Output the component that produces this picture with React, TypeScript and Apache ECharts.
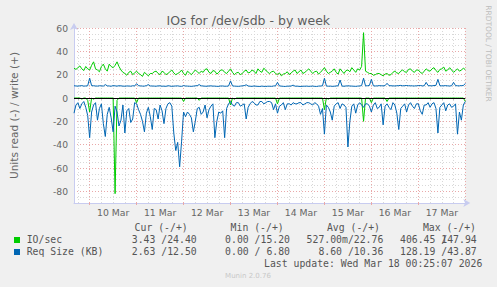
import React, { useEffect, useRef } from 'react';
import * as echarts from 'echarts';

// time axis: hours relative to 10 Mar 00:00, one sample every hour
const START_HOUR = -8;
const STEP_HOURS = 1;
const dayLabels = ['10 Mar', '11 Mar', '12 Mar', '13 Mar', '14 Mar', '15 Mar', '16 Mar', '17 Mar'];

// IO/sec, write (+)
const ioWrite = [
  25.5, 24.5, 26, 27.5, 25, 23.5, 27, 25, 24, 28, 31, 25, 24, 22.5, 27, 29, 25, 23, 29, 27,
  26, 28, 31, 27, 24, 22, 21, 19.5, 22, 23, 20, 21.5, 23, 21, 20, 18.5, 22, 20.5, 19, 21,
  21, 22.5, 23, 21, 20, 23, 22, 20, 21, 22.5, 24, 21.5, 20, 21, 22, 24, 21, 19.5, 23, 21.5,
  20, 22, 24, 22.5, 21, 23, 22, 24.5, 25, 22, 21, 23.5, 23, 20.5, 22, 24, 24, 22, 21, 23,
  25, 22, 20, 21.5, 22, 20, 21, 23, 24, 21.5, 22, 24, 23, 21, 25, 23, 22, 25.5, 24, 22,
  21, 22.5, 23, 21, 20, 21.5, 19, 20.5, 21, 22.5, 20, 21.5, 23, 24, 21, 22.5, 24, 21, 22, 23.5,
  25, 23, 21, 22.5, 23, 20.5, 22, 24, 26, 23, 21, 22, 23, 25, 22, 20.5, 25, 23, 21, 23.5,
  24, 22.5, 26, 24, 22, 25, 24, 27, 56, 23, 22, 21, 21, 19.5, 20, 21, 21, 20, 19, 20.5,
  21, 19.5, 20, 22, 23, 21.5, 21, 23, 24, 22.5, 22, 24.5, 25, 23, 22, 24, 24, 22, 21, 23,
  25, 23.5, 23, 25, 26, 23.5, 22, 24.5, 25, 26.5, 23, 24, 26, 24, 22, 23.5, 25, 23, 24, 25.5,
  24.4,
];

// IO/sec, read (-)
const ioRead = [
  0, 0, 0, 0, -1, 0, 0, -2, -12, 0, -1, 0, 0, 0, 0, 0, 0, 0, 0, 0,
  0, -82, -2, 0, 0, 0, 0, 0, 0, 0, 0, 0, -4, 0, 0, 0, 0, 0, 0, 0,
  0, 0, 0, 0, 0, 0, 0, 0, 0, 0, 0, 0, 0, 0, 0, 0, -3, 0, 0, 0,
  0, 0, 0, 0, -2, 0, 0, 0, 0, 0, 0, 0, 0, 0, 0, 0, 0, 0, 0, 0,
  -6, 0, -1, 0, 0, 0, 0, 0, 0, 0, 0, 0, 0, 0, 0, 0, 0, 0, 0, 0,
  0, 0, 0, 0, -5, 0, 0, 0, 0, 0, 0, 0, 0, 0, 0, 0, 0, 0, 0, 0,
  0, 0, 0, 0, 0, 0, 0, 0, -10, 0, -1, 0, 0, 0, 0, 0, 0, 0, 0, 0,
  0, 0, 0, 0, 0, 0, 0, 0, -20, 0, 0, 0, -4, 0, 0, 0, 0, 0, 0, 0,
  -3, 0, 0, 0, 0, 0, 0, 0, 0, 0, 0, 0, 0, 0, 0, 0, 0, 0, 0, 0,
  0, 0, 0, 0, 0, 0, 0, 0, 0, 0, 0, 0, 0, 0, 0, 0, 0, 0, 0, 0,
  -3,
];

// Req Size (KB), write (+)
const sizeWrite = [
  10.5, 10.3, 10.2, 10.4, 10.6, 10.2, 10.3, 10.5, 17, 10.6, 10.5, 10.3, 10.2, 10.5, 10.4, 10.2, 11.5, 10.4, 10.3, 10.1,
  10.6, 10.4, 10.2, 10.5, 10.4, 10.2, 10.1, 10.3, 10.3, 10.1, 10.5, 10.3, 12.3, 10.5, 10.4, 10.2, 10.2, 10.6, 11.5, 10.3,
  10.3, 10.2, 10.1, 10.4, 10.4, 10.1, 10.2, 10.0, 10.5, 10.3, 10.0, 10.2, 10.3, 10.4, 10.1, 10.0, 10.6, 10.3, 10.2, 10.1,
  10.0, 10.2, 10.4, 10.6, 11.5, 10.4, 10.3, 10.1, 10.1, 10.3, 10.4, 10.2, 10.2, 10.0, 10.0, 10.3, 10.3, 10.1, 10.1, 10.3,
  14.6, 10.4, 10.2, 10.1, 10.0, 10.2, 10.4, 10.6, 11.3, 10.3, 10.1, 10.0, 10.3, 10.1, 10.0, 9.9, 10.2, 10.0, 9.9, 10.1,
  10.1, 10.0, 10.3, 10.4, 13.4, 10.3, 10.2, 10.0, 9.9, 10.2, 10.1, 10.3, 11.0, 10.1, 10.2, 10.0, 9.9, 10.1, 10.1, 10.2,
  10.0, 10.1, 10.2, 10.0, 9.9, 10.2, 10.3, 10.4, 16.9, 10.3, 10.1, 10.2, 10.0, 10.1, 10.3, 10.4, 15.4, 10.2, 10.1, 10.3,
  10.4, 10.3, 10.2, 10.1, 10.0, 10.2, 10.3, 10.6, 17, 10.4, 10.5, 10.8, 16, 10.5, 10.3, 10.4, 10.6, 10.5, 10.4, 10.6,
  12.6, 10.6, 10.5, 10.4, 10.3, 10.5, 10.6, 10.8, 10.4, 10.6, 10.7, 10.5, 10.5, 10.4, 10.3, 10.5, 10.6, 10.7, 10.4, 10.5,
  13.4, 10.6, 10.5, 10.4, 10.7, 10.8, 16, 10.6, 10.4, 10.5, 10.6, 10.4, 10.3, 10.5, 13.4, 10.6, 10.5, 10.4, 10.7, 10.6,
  12.5,
];

// Req Size (KB), read (-)
const sizeRead = [
  -13, -6, -4, -9, -5, -3, -8, -15, -34, -12, -6, -4, -19, -9, -5, -22, -33, -14, -8, -17,
  -29, -7, -12, -24, -19, -6, -30, -11, -9, -21, -18, -4, -5, -10, -14, -20, -29, -13, -8, -16,
  -27, -9, -10, -18, -6, -11, -22, -9, -5, -4, -7, -30, -45, -38, -59, -37, -12, -16, -12, -14,
  -17, -29, -20, -9, -8, -14, -12, -6, -17, -10, -7, -5, -34, -20, -12, -13, -11, -34, -9, -5,
  -3, -6, -7, -4, -4, -7, -6, -5, -18, -8, -5, -3, -4, -6, -6, -3, -3, -5, -4, -3,
  -3, -4, -10, -5, -13, -7, -6, -4, -10, -5, -5, -6, -4, -5, -5, -4, -4, -6, -5, -4,
  -4, -5, -6, -4, -5, -7, -14, -9, -31, -6, -8, -12, -19, -7, -5, -4, -9, -5, -6, -8,
  -42, -20, -7, -5, -13, -6, -4, -6, -8, -5, -5, -7, -12, -6, -4, -9, -8, -5, -23, -7,
  -5, -8, -10, -4, -6, -13, -27, -9, -7, -5, -12, -6, -4, -7, -9, -5, -5, -11, -14, -6,
  -6, -4, -8, -5, -4, -9, -30, -8, -6, -4, -11, -6, -5, -8, -7, -5, -31, -12, -19, -6,
  -3,
];

// legend table
const legendNames = ['IO/sec', 'Req Size (KB)'];
const legendColors = ['#00CC00', '#0066B3'];
const legendHeaders = ['Cur (-/+)', 'Min (-/+)', 'Avg (-/+)', 'Max (-/+)'];
const curNeg = ['3.43 /', '2.63 /'];
const curPos = ['24.40', '12.50'];
const minNeg = ['0.00 /', '0.00 /'];
const minPos = ['15.20', ' 6.80'];
const avgNeg = ['527.00m/', '8.60 /'];
const avgPos = ['22.76', '10.36'];
const maxNeg = ['406.45 /', '128.19 /'];
const maxPos = ['147.94', '43.87'];
const lastUpdate = 'Last update: Wed Mar 18 00:25:07 2026';

const hours = ioWrite.map((_, i) => START_HOUR + i * STEP_HOURS);
const categories = hours.map((h) => String(h));

const FONT_COLOR = '#666666';
const MGRID = '#E9A8A8';
const GRID = '#D8D8D8';
const AXIS = '#C8CCF0';
const SANS = '"DejaVu Sans", sans-serif';
const MONO = '"DejaVu Sans Mono", monospace';

const mod24 = (h: number) => ((h % 24) + 24) % 24;

function buildOption() {
  const cw = 5.9; // monospace cell width
  const monoFont = `9.8px ${MONO}`;
  const colEnds = [196.7, 290, 383.3, 476.7];
  const headerEnds = [187.7, 283.7, 380, 476];
  const rowY = [239.7, 251.7];
  const negCols = [curNeg, minNeg, avgNeg, maxNeg];
  const posCols = [curPos, minPos, avgPos, maxPos];

  const textEl = (text: string, x: number, y: number, font: string, fill: string, align: string) => ({
    type: 'text',
    x,
    y,
    silent: true,
    style: { text, font, fill, align, textAlign: align, verticalAlign: 'middle', textVerticalAlign: 'middle' },
  });

  const graphics: any[] = [];
  graphics.push(textEl('IOs for /dev/sdb - by week', 248.3, 20, `12.5px ${SANS}`, '#5e5e5e', 'center'));
  graphics.push({
    type: 'text',
    x: 488.5,
    y: 53.5,
    rotation: -Math.PI / 2,
    silent: true,
    style: {
      text: 'RRDTOOL / TOBI OETIKER',
      font: `7.5px ${SANS}`,
      fill: '#BDBDBD',
      align: 'center',
      textAlign: 'center',
      verticalAlign: 'middle',
      textVerticalAlign: 'middle',
    },
  });
  legendHeaders.forEach((h, c) => graphics.push(textEl(h, headerEnds[c], 227.3, monoFont, '#555', 'right')));
  legendNames.forEach((name, r) => {
    graphics.push({
      type: 'rect',
      silent: true,
      shape: { x: 14, y: rowY[r] - 2.7, width: 6, height: 6 },
      style: { fill: legendColors[r] },
    });
    graphics.push(textEl(name, 26.7, rowY[r], monoFont, '#555', 'left'));
    for (let c = 0; c < 4; c++) {
      graphics.push(textEl(negCols[c][r], colEnds[c] - 5 * cw, rowY[r], monoFont, '#555', 'right'));
      graphics.push(textEl(posCols[c][r], colEnds[c], rowY[r], monoFont, '#555', 'right'));
    }
  });
  graphics.push(textEl(lastUpdate, 482.3, 263.3, monoFont, '#555', 'right'));
  graphics.push(textEl('Munin 2.0.76', 248, 276, `7px ${SANS}`, '#C8C8C8', 'center'));

  const lineSeries = (name: string, data: number[], color: string, extra: any = {}) => ({
    type: 'line',
    name,
    data,
    xAxisIndex: 0,
    yAxisIndex: 0,
    showSymbol: false,
    symbol: 'none',
    lineStyle: { color, width: 1 },
    itemStyle: { color },
    ...extra,
  });

  return {
    animation: false,
    backgroundColor: '#F0F0F0',
    grid: {
      left: 65.3,
      right: 31.7,
      top: 28,
      bottom: 84,
      show: true,
      backgroundColor: '#FFFFFF',
      borderWidth: 0,
      containLabel: false,
    },
    xAxis: [
      {
        type: 'category',
        data: categories,
        boundaryGap: false,
        position: 'bottom',
        axisLine: {
          show: true,
          onZero: false,
          lineStyle: { color: AXIS, width: 1 },
          symbol: ['none', 'arrow'],
          symbolSize: [6, 7],
          symbolOffset: [0, 5],
        },
        axisTick: {
          show: true,
          length: 2,
          interval: (i: number) => mod24(hours[i]) === 0,
          lineStyle: { color: MGRID },
        },
        axisLabel: {
          show: true,
          interval: (i: number) => mod24(hours[i]) === 12,
          formatter: (v: string) => dayLabels[Math.floor(Number(v) / 24)] ?? '',
          color: FONT_COLOR,
          fontSize: 9.3,
          fontFamily: SANS,
          margin: 5,
        },
        splitLine: {
          show: true,
          interval: (i: number) => mod24(hours[i]) === 0,
          lineStyle: { color: MGRID, type: [1, 2], width: 1 },
        },
      },
      {
        type: 'category',
        data: categories,
        boundaryGap: false,
        position: 'bottom',
        offset: 0,
        axisLine: { show: false },
        axisTick: {
          show: true,
          length: 2,
          interval: (i: number) => hours[i] % 6 === 0 && mod24(hours[i]) !== 0,
          lineStyle: { color: '#C0C0C0' },
        },
        axisLabel: { show: false },
        splitLine: {
          show: true,
          interval: (i: number) => hours[i] % 6 === 0 && mod24(hours[i]) !== 0,
          lineStyle: { color: GRID, type: [1, 2], width: 1 },
        },
      },
    ],
    yAxis: [
      {
        type: 'value',
        min: -90,
        max: 60,
        interval: 5,
        name: 'Units read (-) / write (+)',
        nameLocation: 'middle',
        nameGap: 55,
        nameTextStyle: { color: FONT_COLOR, fontSize: 10.6, fontFamily: SANS },
        axisLine: {
          show: true,
          onZero: false,
          lineStyle: { color: AXIS, width: 1 },
          symbol: ['none', 'arrow'],
          symbolSize: [6, 7],
          symbolOffset: [0, 5],
        },
        axisTick: { show: false },
        axisLabel: {
          formatter: (v: number) => (v % 20 === 0 ? String(v) : ''),
          color: FONT_COLOR,
          fontSize: 9.2,
          fontFamily: SANS,
          margin: 6,
        },
        splitLine: {
          show: true,
          lineStyle: { color: [GRID, GRID, MGRID, GRID], type: [1, 2], width: 1 },
        },
      },
    ],
    series: [
      lineSeries('IO/sec read', ioRead, '#00CC00'),
      lineSeries('IO/sec write', ioWrite, '#00CC00'),
      lineSeries('Req Size read', sizeRead, '#0066B3'),
      lineSeries('Req Size write', sizeWrite, '#0066B3', {
        markLine: {
          silent: true,
          symbol: 'none',
          label: { show: false },
          lineStyle: { color: '#000000', width: 1, type: 'solid' },
          data: [{ yAxis: 0 }],
        },
      }),
    ],
    graphic: { elements: graphics },
  };
}

export default function App() {
  const ref = useRef<HTMLDivElement>(null);
  useEffect(() => {
    document.body.style.margin = '0';
    const chart = echarts.init(ref.current as HTMLDivElement, null, { renderer: 'svg' });
    chart.setOption(buildOption() as any);
    return () => chart.dispose();
  }, []);
  return (
    <div
      ref={ref}
      style={{ position: 'fixed', left: 0, top: 0, width: 497, height: 287, background: '#F0F0F0' }}
    />
  );
}
